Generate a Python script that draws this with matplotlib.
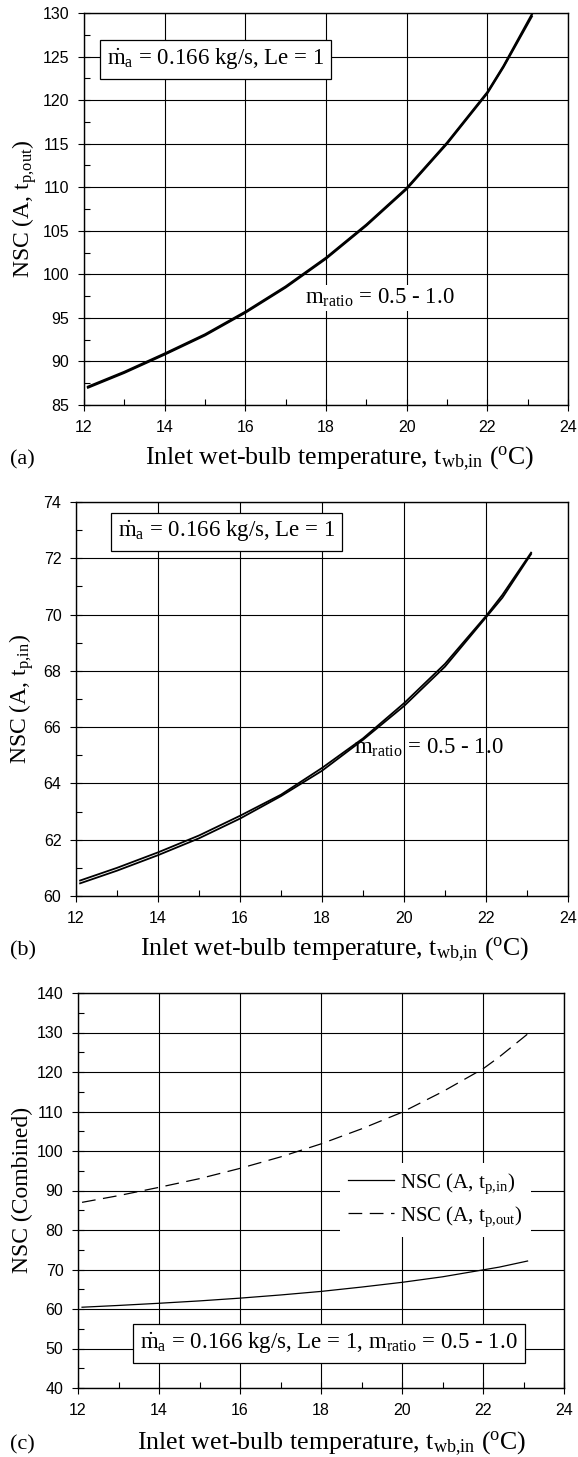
import matplotlib
matplotlib.use("Agg")
import matplotlib.pyplot as plt
from matplotlib.ticker import MultipleLocator

plt.rcParams["font.family"] = ["Liberation Serif", "DejaVu Serif"]
plt.rcParams["mathtext.fontset"] = "custom"
plt.rcParams["mathtext.rm"] = "Liberation Serif"
plt.rcParams["mathtext.it"] = "Liberation Serif:italic"
plt.rcParams["mathtext.bf"] = "Liberation Serif:bold"

# inlet wet-bulb temperature (deg C)
t_wb = [12.1, 13.0, 14.0, 15.0, 16.0, 17.0, 18.0, 19.0, 20.0, 21.0, 22.0, 22.4, 23.1]

# NSC(A, t_p,out) for m_ratio = 0.5 and 1.0 (the two curves nearly coincide)
nsc_out_05 = [87.0, 88.7, 90.8, 93.0, 95.6, 98.5, 101.8, 105.6, 109.8, 115.0, 120.8, 123.8, 129.6]
nsc_out_10 = [87.1, 88.8, 90.9, 93.1, 95.7, 98.6, 101.9, 105.7, 109.9, 115.1, 120.9, 123.9, 129.8]

# NSC(A, t_p,in) for m_ratio = 0.5 and 1.0
nsc_in_05 = [60.45, 60.9, 61.45, 62.05, 62.75, 63.55, 64.45, 65.55, 66.75, 68.15, 69.9, 70.6, 72.15]
nsc_in_10 = [60.55, 61.0, 61.55, 62.15, 62.85, 63.6, 64.55, 65.6, 66.85, 68.25, 69.95, 70.7, 72.2]

XLABEL = r"Inlet wet-bulb temperature, $\mathrm{t_{wb{,}in}}$ ($^{\mathrm{o}}$C)"
MA_TEXT = r"$\dot{\mathrm{m}}_{\mathrm{a}}$ = 0.166 kg/s, Le = 1"
MR_TEXT = r"$\mathrm{m_{ratio}}$ = 0.5 - 1.0"
LBL_FS = 18.6
BOX_FS = 16.5

W, H = 578, 1457
fig = plt.figure(figsize=(W / 100, H / 100), dpi=100)


def add_axes(left, right, top, bottom):
    return fig.add_axes([left / W, 1 - bottom / H, (right - left) / W, (bottom - top) / H])


def style(ax, ylim, ymaj, ymin):
    ax.set_xlim(12, 24)
    ax.set_ylim(*ylim)
    ax.xaxis.set_major_locator(MultipleLocator(2))
    ax.xaxis.set_minor_locator(MultipleLocator(1))
    ax.yaxis.set_major_locator(MultipleLocator(ymaj))
    ax.yaxis.set_minor_locator(MultipleLocator(ymin))
    ax.tick_params(which="major", direction="inout", length=9, width=0.8,
                   labelsize=11.5, labelfontfamily="Liberation Sans", pad=6)
    ax.tick_params(which="minor", direction="in", length=4, width=0.8)
    ax.grid(which="major", color="black", lw=0.8)
    ax.set_axisbelow(True)
    for s in ax.spines.values():
        s.set_linewidth(1.0)


def labels(ylabel, ycenter, yx, xstart, baseline, letter):
    fig.text(yx / W, 1 - ycenter / H, ylabel, fontsize=17, rotation=90,
             ha="center", va="center")
    fig.text(xstart / W, 1 - baseline / H, XLABEL, fontsize=LBL_FS,
             ha="left", va="baseline")
    fig.text(10 / W, 1 - baseline / H, letter, fontsize=16, ha="left", va="baseline")


box = dict(boxstyle="square,pad=0.3", fc="white", ec="black", lw=0.9)
blank = dict(fc="white", ec="none", pad=1)

# (a)
ax1 = add_axes(84, 568, 13, 405)
style(ax1, (85, 130), 5, 2.5)
ax1.plot(t_wb, nsc_out_05, color="black", lw=1.6)
ax1.plot(t_wb, nsc_out_10, color="black", lw=1.6)
labels(r"NSC (A, $\mathrm{t_{p{,}out}}$)", 209, 25, 145, 464, "(a)")
ax1.text(0.047, 0.881, MA_TEXT, transform=ax1.transAxes, fontsize=BOX_FS,
         ha="left", va="center", bbox=box)
ax1.text(0.457, 0.273, MR_TEXT, transform=ax1.transAxes, fontsize=BOX_FS,
         ha="left", va="center", bbox=blank)

# (b)
ax2 = add_axes(76, 568, 502, 896)
style(ax2, (60, 74), 2, 1)
ax2.plot(t_wb, nsc_in_05, color="black", lw=1.3)
ax2.plot(t_wb, nsc_in_10, color="black", lw=1.3)
labels(r"NSC (A, $\mathrm{t_{p{,}in}}$)", 699, 22, 140, 955, "(b)")
ax2.text(0.565, 0.375, MR_TEXT, transform=ax2.transAxes, fontsize=BOX_FS,
         ha="left", va="center")
ax2.text(0.085, 0.924, MA_TEXT, transform=ax2.transAxes, fontsize=BOX_FS,
         ha="left", va="center", bbox=box)

# (c)
ax3 = add_axes(78, 564, 993, 1388)
style(ax3, (40, 140), 10, 5)
ax3.plot(t_wb, nsc_in_05, color="black", lw=0.9, label=r"NSC (A, $\mathrm{t_{p{,}in}}$)")
ax3.plot(t_wb, nsc_out_05, color="black", lw=0.9, linestyle=(0, (11, 6)),
         label=r"NSC (A, $\mathrm{t_{p{,}out}}$)")
labels("NSC (Combined)", 1190, 22, 137, 1449, "(c)")
ax3.legend(loc="upper left", bbox_to_anchor=(0.539, 0.57), fontsize=15,
           frameon=True, facecolor="white", edgecolor="none", framealpha=1,
           fancybox=False, handlelength=2.2, handletextpad=0.3, labelspacing=0.4,
           borderaxespad=0)
ax3.text(0.128, 0.113, MA_TEXT + r", $\mathrm{m_{ratio}}$ = 0.5 - 1.0",
         transform=ax3.transAxes, fontsize=BOX_FS, ha="left", va="center", bbox=box)

fig.savefig("out.png", dpi=100)
